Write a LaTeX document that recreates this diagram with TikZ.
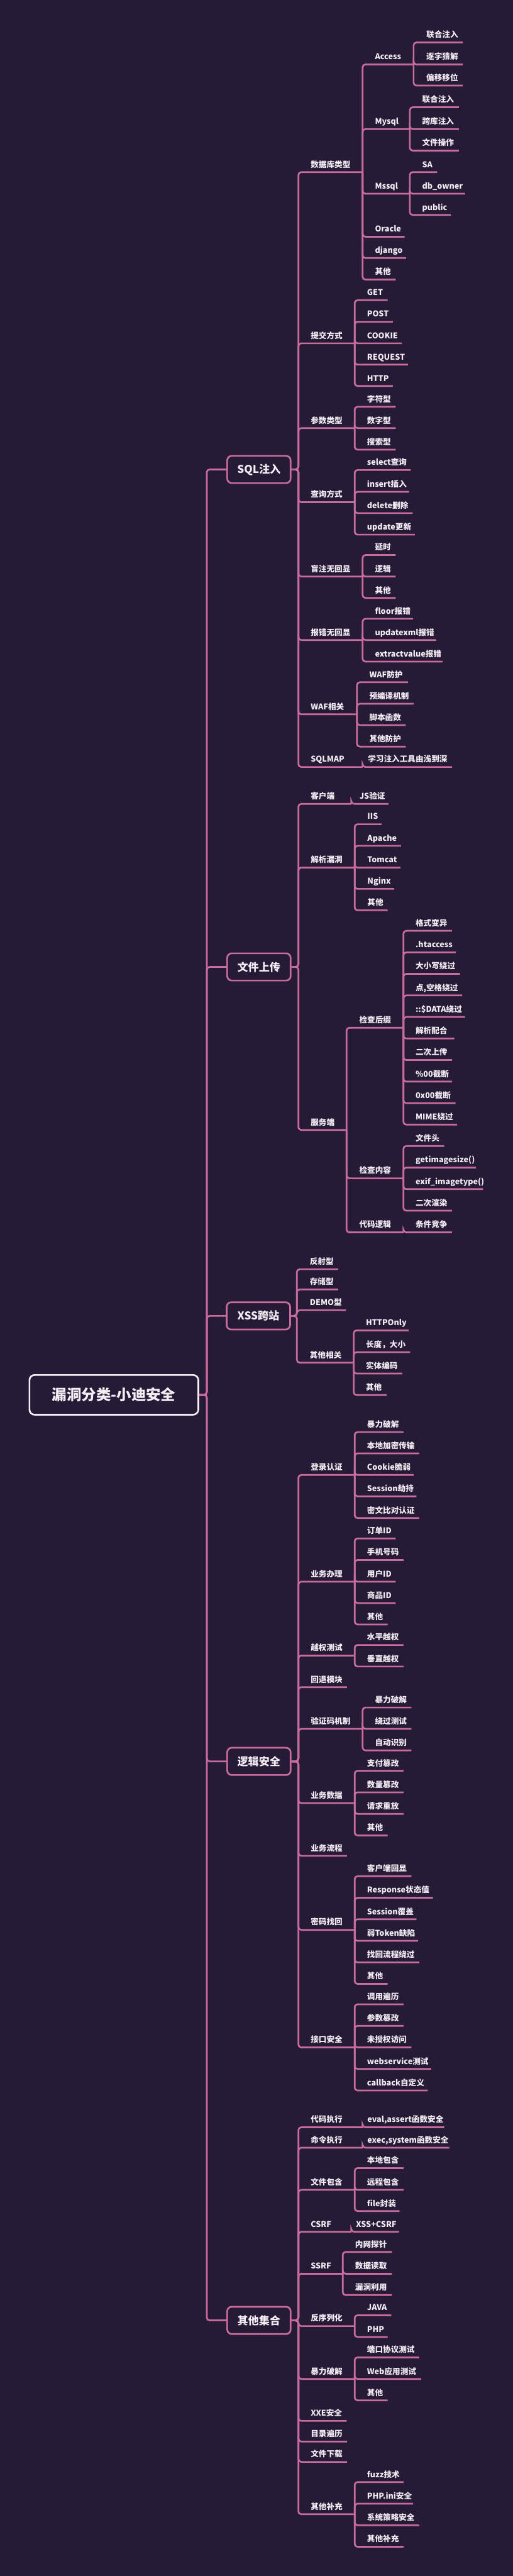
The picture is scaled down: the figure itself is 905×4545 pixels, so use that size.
\documentclass[tikz,border=0pt]{standalone}
\usepackage{fontspec}
\setmainfont{Noto Sans CJK SC}
\definecolor{bg}{HTML}{251B37}
\definecolor{pk}{HTML}{C86C9F}
\definecolor{tx}{HTML}{F4EEF4}
\tikzset{
  txt/.style={anchor=base west,inner sep=0pt,text=tx,font=\bfseries\fontsize{14}{14}\selectfont},
  conn/.style={draw=pk,line width=3pt,rounded corners=5pt},
  lone/.style={draw=pk,line width=3pt,rounded corners=8pt,fill=bg,text=tx,minimum width=112pt,minimum height=48pt,inner sep=0pt,font=\bfseries\fontsize{19}{19}\selectfont},
  rootbox/.style={draw=tx,line width=3pt,rounded corners=9pt,fill=bg,text=tx,minimum width=298pt,minimum height=70pt,inner sep=0pt,font=\bfseries\fontsize{26}{26}\selectfont}
}
\newcommand\mm[5]{\node[txt] (#1) at (#2,#3-8.5) {#5};\coordinate (#1e) at (#4,#3);}
\newcommand\lk[2]{\draw[conn] (#1e) |- (#2e);}
\newcommand\lb[3]{\draw[conn] (#1.east) -- (#2) |- (#3e);}
\begin{document}
\begin{tikzpicture}[x=1pt,y=-1pt]
\fill[bg] (0,0) rectangle (905,4545);
\useasboundingbox (0,0) rectangle (905,4545);

% root and level 1
\node[rootbox] (root) at (201,2461) {漏洞分类-小迪安全};
\coordinate (rv) at (365,2461);
\node[lone] (sql) at (457,828.3) {SQL注入};
\node[lone] (up) at (457,1706) {文件上传};
\node[lone] (xss) at (456,2321.7) {XSS跨站};
\node[lone] (lg) at (457,3107.7) {逻辑安全};
\node[lone] (ot) at (457,4094) {其他集合};
\foreach \b in {sql,up,xss,lg,ot} {\draw[conn] (root.east) -- (rv) |- (\b.west);}

% ---------- SQL注入 ----------
\coordinate (sqlv) at (526.7,828.3);
\mm{s1}{548.3}{303.7}{640}{数据库类型}
\mm{s11}{661.7}{113.7}{730}{Access}
\mm{s111}{752.3}{75}{816.7}{联合注入}
\mm{s112}{752.3}{113.7}{816.7}{逐字猜解}
\mm{s113}{752.3}{151}{816.7}{偏移移位}
\mm{s12}{661.7}{227.7}{723.3}{Mysql}
\mm{s121}{745}{189.3}{810}{联合注入}
\mm{s122}{745}{227.7}{810}{跨库注入}
\mm{s123}{745}{265.7}{810}{文件操作}
\mm{s13}{661.7}{341.7}{723.3}{Mssql}
\mm{s131}{745}{303.7}{771.7}{SA}
\mm{s132}{745}{341.7}{820.7}{db\_owner}
\mm{s133}{745}{379.3}{795.7}{public}
\mm{s14}{661.7}{417.7}{714.3}{Oracle}
\mm{s15}{661.7}{455.3}{716.7}{django}
\mm{s16}{661.7}{493.3}{698.3}{其他}
\mm{s2}{548.3}{605.7}{626}{提交方式}
\mm{s21}{647.7}{529.7}{684.3}{GET}
\mm{s22}{647.7}{567.7}{693.3}{POST}
\mm{s23}{647.7}{605.7}{709.3}{COOKIE}
\mm{s24}{647.7}{643.3}{720}{REQUEST}
\mm{s25}{647.7}{681}{693.3}{HTTP}
\mm{s3}{548.3}{755.3}{626}{参数类型}
\mm{s31}{647.7}{717.7}{698.3}{字符型}
\mm{s32}{647.7}{755.3}{698.3}{数字型}
\mm{s33}{647.7}{793.3}{698.3}{搜索型}
\mm{s4}{548.3}{886}{626}{查询方式}
\mm{s41}{647.7}{829.3}{725}{select查询}
\mm{s42}{647.7}{867.7}{722.3}{insert插入}
\mm{s43}{647.7}{905.3}{728.3}{delete删除}
\mm{s44}{647.7}{943.3}{732.3}{update更新}
\mm{s5}{548.3}{1017.3}{640}{盲注无回显}
\mm{s51}{661.7}{979.3}{698.3}{延时}
\mm{s52}{661.7}{1017.3}{698.3}{逻辑}
\mm{s53}{661.7}{1055}{698.3}{其他}
\mm{s6}{548.3}{1129.3}{640}{报错无回显}
\mm{s61}{661.7}{1091.7}{729}{floor报错}
\mm{s62}{661.7}{1129.3}{770}{updatexml报错}
\mm{s63}{661.7}{1167.3}{781}{extractvalue报错}
\mm{s7}{548.3}{1260.3}{630}{WAF相关}
\mm{s71}{651.7}{1203.7}{720}{WAF防护}
\mm{s72}{651.7}{1241.7}{730}{预编译机制}
\mm{s73}{651.7}{1279.3}{716}{脚本函数}
\mm{s74}{651.7}{1317.3}{716}{其他防护}
\mm{s8}{548.3}{1353.3}{640}{SQLMAP}
\mm{s81}{649.3}{1353.3}{797.7}{学习注入工具由浅到深}
\foreach \c in {s1,s2,s3,s4,s5,s6,s7,s8} {\lb{sql}{sqlv}{\c}}
\foreach \c in {s11,s12,s13,s14,s15,s16} {\lk{s1}{\c}}
\foreach \c in {s111,s112,s113} {\lk{s11}{\c}}
\foreach \c in {s121,s122,s123} {\lk{s12}{\c}}
\foreach \c in {s131,s132,s133} {\lk{s13}{\c}}
\foreach \c in {s21,s22,s23,s24,s25} {\lk{s2}{\c}}
\foreach \c in {s31,s32,s33} {\lk{s3}{\c}}
\foreach \c in {s41,s42,s43,s44} {\lk{s4}{\c}}
\foreach \c in {s51,s52,s53} {\lk{s5}{\c}}
\foreach \c in {s61,s62,s63} {\lk{s6}{\c}}
\foreach \c in {s71,s72,s73,s74} {\lk{s7}{\c}}
\lk{s8}{s81}

% ---------- 文件上传 ----------
\coordinate (upv) at (526.7,1706);
\mm{u1}{548.3}{1418.3}{620}{客户端}
\mm{u11}{634.3}{1418.3}{686}{JS验证}
\mm{u2}{548.3}{1530.7}{626}{解析漏洞}
\mm{u21}{648.3}{1454.3}{673.3}{IIS}
\mm{u22}{648.3}{1492.3}{707.7}{Apache}
\mm{u23}{648.3}{1530.7}{706.7}{Tomcat}
\mm{u24}{648.3}{1568.3}{695.7}{Nginx}
\mm{u25}{648.3}{1606}{684.3}{其他}
\mm{u3}{548.3}{1993.7}{611.7}{服务端}
\mm{u31}{634}{1813.3}{712}{检查后缀}
\mm{u311}{733.3}{1642.3}{797.7}{格式变异}
\mm{u312}{733.3}{1680.3}{805}{.htaccess}
\mm{u313}{733.3}{1718.3}{811.7}{大小写绕过}
\mm{u314}{733.3}{1756.3}{815.7}{点,空格绕过}
\mm{u315}{733.3}{1794.3}{820.7}{::\$DATA绕过}
\mm{u316}{733.3}{1832.3}{801.7}{解析配合}
\mm{u317}{733.3}{1870.3}{797.7}{二次上传}
\mm{u318}{733.3}{1908.3}{797.7}{\%00截断}
\mm{u319}{733.3}{1946.3}{804}{0x00截断}
\mm{u310}{733.3}{1984.3}{806.7}{MIME绕过}
\mm{u32}{634}{2079}{712}{检查内容}
\mm{u321}{733.3}{2022}{784}{文件头}
\mm{u322}{733.3}{2060}{840}{getimagesize()}
\mm{u323}{733.3}{2098}{852.7}{exif\_imagetype()}
\mm{u324}{733.3}{2136}{797.7}{二次渲染}
\mm{u33}{634}{2174.3}{712}{代码逻辑}
\mm{u331}{733.3}{2174.3}{797.7}{条件竞争}
\foreach \c in {u1,u2,u3} {\lb{up}{upv}{\c}}
\lk{u1}{u11}
\foreach \c in {u21,u22,u23,u24,u25} {\lk{u2}{\c}}
\foreach \c in {u31,u32,u33} {\lk{u3}{\c}}
\foreach \c in {u311,u312,u313,u314,u315,u316,u317,u318,u319,u310} {\lk{u31}{\c}}
\foreach \c in {u321,u322,u323,u324} {\lk{u32}{\c}}
\lk{u33}{u331}

% ---------- XSS跨站 ----------
\coordinate (xssv) at (524,2321.7);
\mm{x1}{546.7}{2239.3}{596.7}{反射型}
\mm{x2}{546.7}{2275}{596.7}{存储型}
\mm{x3}{546.7}{2311.7}{610.7}{DEMO型}
\mm{x4}{546.7}{2404.3}{624.3}{其他相关}
\mm{x41}{645.7}{2347.3}{721}{HTTPOnly}
\mm{x42}{645.7}{2385.7}{724}{长度，大小}
\mm{x43}{645.7}{2423.3}{710}{实体编码}
\mm{x44}{645.7}{2461.3}{682.3}{其他}
\foreach \c in {x1,x2,x3,x4} {\lb{xss}{xssv}{\c}}
\foreach \c in {x41,x42,x43,x44} {\lk{x4}{\c}}

% ---------- 逻辑安全 ----------
\coordinate (lgv) at (526.7,3107.7);
\mm{g1}{548.3}{2602.3}{626}{登录认证}
\mm{g11}{647.7}{2526.7}{712.3}{暴力破解}
\mm{g12}{647.7}{2564.3}{740}{本地加密传输}
\mm{g13}{647.7}{2602.3}{730}{Cookie脆弱}
\mm{g14}{647.7}{2640}{735}{Session劫持}
\mm{g15}{647.7}{2678.3}{740}{密文比对认证}
\mm{g2}{548.3}{2790.7}{626}{业务办理}
\mm{g21}{647.7}{2714.3}{698.3}{订单ID}
\mm{g22}{647.7}{2752.3}{712.3}{手机号码}
\mm{g23}{647.7}{2790.7}{698.3}{用户ID}
\mm{g24}{647.7}{2828.3}{698.3}{商品ID}
\mm{g25}{647.7}{2866}{684.3}{其他}
\mm{g3}{548.3}{2921}{626}{越权测试}
\mm{g31}{647.7}{2902.3}{712.3}{水平越权}
\mm{g32}{647.7}{2940.3}{712.3}{垂直越权}
\mm{g4}{548.3}{2976.7}{612.3}{回退模块}
\mm{g5}{548.3}{3050.3}{640}{验证码机制}
\mm{g51}{661.7}{3012.7}{726}{暴力破解}
\mm{g52}{661.7}{3050.3}{726}{绕过测试}
\mm{g53}{661.7}{3088.3}{726}{自动识别}
\mm{g6}{548.3}{3181.3}{626}{业务数据}
\mm{g61}{647.7}{3124.3}{712.3}{支付篡改}
\mm{g62}{647.7}{3162.3}{712.3}{数量篡改}
\mm{g63}{647.7}{3200.3}{712.3}{请求重放}
\mm{g64}{647.7}{3238.3}{684.3}{其他}
\mm{g7}{548.3}{3274.3}{612.3}{业务流程}
\mm{g8}{548.3}{3405}{626}{密码找回}
\mm{g81}{647.7}{3310.3}{726}{客户端回显}
\mm{g82}{647.7}{3348.3}{764}{Response状态值}
\mm{g83}{647.7}{3386.3}{735}{Session覆盖}
\mm{g84}{647.7}{3424.3}{737.7}{弱Token缺陷}
\mm{g85}{647.7}{3462.3}{740}{找回流程绕过}
\mm{g86}{647.7}{3500.3}{684.3}{其他}
\mm{g9}{548.3}{3612.3}{626}{接口安全}
\mm{g91}{647.7}{3536.3}{712.3}{调用遍历}
\mm{g92}{647.7}{3574.3}{712.3}{参数篡改}
\mm{g93}{647.7}{3612.3}{726}{未授权访问}
\mm{g94}{647.7}{3650.3}{761}{webservice测试}
\mm{g95}{647.7}{3688.3}{755}{callback自定义}
\foreach \c in {g1,g2,g3,g4,g5,g6,g7,g8,g9} {\lb{lg}{lgv}{\c}}
\foreach \c in {g11,g12,g13,g14,g15} {\lk{g1}{\c}}
\foreach \c in {g21,g22,g23,g24,g25} {\lk{g2}{\c}}
\foreach \c in {g31,g32} {\lk{g3}{\c}}
\foreach \c in {g51,g52,g53} {\lk{g5}{\c}}
\foreach \c in {g61,g62,g63,g64} {\lk{g6}{\c}}
\foreach \c in {g81,g82,g83,g84,g85,g86} {\lk{g8}{\c}}
\foreach \c in {g91,g92,g93,g94,g95} {\lk{g9}{\c}}

% ---------- 其他集合 ----------
\coordinate (otv) at (526.7,4094);
\mm{o1}{548.3}{3753.3}{640}{代码执行}
\mm{o11}{648.3}{3753.3}{784}{eval,assert函数安全}
\mm{o2}{548.3}{3789.3}{640}{命令执行}
\mm{o21}{648.3}{3789.3}{793.3}{exec,system函数安全}
\mm{o3}{548.3}{3863.7}{626}{文件包含}
\mm{o31}{647.7}{3825.3}{712.3}{本地包含}
\mm{o32}{647.7}{3863.7}{712.3}{远程包含}
\mm{o33}{647.7}{3901}{705}{file封装}
\mm{o4}{548.3}{3937.7}{620}{CSRF}
\mm{o41}{628.3}{3937.7}{704.3}{XSS+CSRF}
\mm{o5}{548.3}{4011.7}{605}{SSRF}
\mm{o51}{626.7}{3973.3}{691.7}{内网探针}
\mm{o52}{626.7}{4011.7}{691.7}{数据读取}
\mm{o53}{626.7}{4049.3}{691.7}{漏洞利用}
\mm{o6}{548.3}{4104}{626}{反序列化}
\mm{o61}{647.7}{4085}{690.7}{JAVA}
\mm{o62}{647.7}{4123.3}{684.3}{PHP}
\mm{o7}{548.3}{4197.3}{626}{暴力破解}
\mm{o71}{647.7}{4159.3}{740}{端口协议测试}
\mm{o72}{647.7}{4197.3}{743.3}{Web应用测试}
\mm{o73}{647.7}{4235}{684.3}{其他}
\mm{o8}{548.3}{4271.3}{611.7}{XXE安全}
\mm{o9}{548.3}{4307.7}{612.7}{目录遍历}
\mm{o10}{548.3}{4343.7}{612.7}{文件下载}
\mm{oa}{548.3}{4436}{626}{其他补充}
\mm{oa1}{647.7}{4379.3}{712.3}{fuzz技术}
\mm{oa2}{647.7}{4417.3}{729}{PHP.ini安全}
\mm{oa3}{647.7}{4455.3}{740}{系统策略安全}
\mm{oa4}{647.7}{4493.3}{712.3}{其他补充}
\foreach \c in {o1,o2,o3,o4,o5,o6,o7,o8,o9,o10,oa} {\lb{ot}{otv}{\c}}
\lk{o1}{o11}
\lk{o2}{o21}
\foreach \c in {o31,o32,o33} {\lk{o3}{\c}}
\lk{o4}{o41}
\foreach \c in {o51,o52,o53} {\lk{o5}{\c}}
\foreach \c in {o61,o62} {\lk{o6}{\c}}
\foreach \c in {o71,o72,o73} {\lk{o7}{\c}}
\foreach \c in {oa1,oa2,oa3,oa4} {\lk{oa}{\c}}
\end{tikzpicture}
\end{document}
